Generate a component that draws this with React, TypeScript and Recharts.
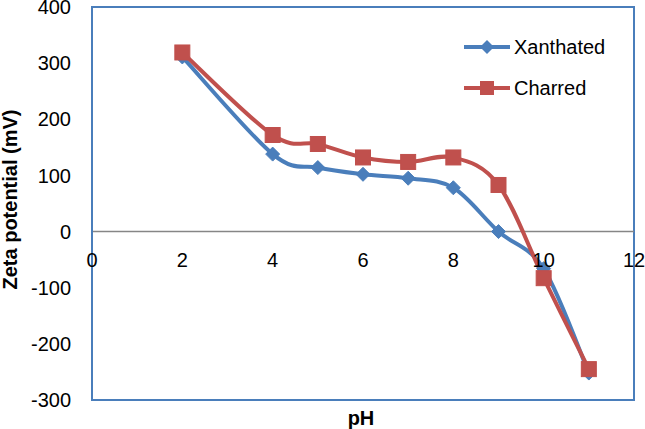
import React from 'react';
import {
  LineChart,
  Line,
  XAxis,
  YAxis,
  ReferenceLine,
  ReferenceArea,
  Legend,
} from 'recharts';

const phValues = [2, 4, 5, 6, 7, 8, 9, 10, 11];
const xanthated = [311, 138, 114, 102, 95, 78, 0, -66, -252];
const charred = [319, 172, 156, 132, 124, 132, 83, -83, -245];
const xTicks = [0, 2, 4, 6, 8, 10, 12];
const yTicks = [-300, -200, -100, 0, 100, 200, 300, 400];
const seriesNames = ['Xanthated', 'Charred'];

const data = phValues.map((ph, i) => ({ ph, xanthated: xanthated[i], charred: charred[i] }));

const BLUE = '#4A7EBB';
const RED = '#C0504D';
const FONT = '"Liberation Sans", Arial, sans-serif';

const W = 645;
const H = 429;
const M = { top: 7, right: 11, bottom: 0, left: 0 };
const Y_W = 92;
const X_H = 29;
const Y_MIN = -300;
const Y_MAX = 400;
const plotH = H - M.top - M.bottom - X_H;
const zeroY = M.top + (plotH * (Y_MAX - 0)) / (Y_MAX - Y_MIN);

// Excel-like smoothing: uniform Catmull-Rom spline drawn as cubic Beziers.
function excelSmooth(context: any) {
  let pts: [number, number][] = [];
  return {
    areaStart() {},
    areaEnd() {},
    lineStart() {
      pts = [];
    },
    point(x: number, y: number) {
      pts.push([+x, +y]);
    },
    lineEnd() {
      const n = pts.length;
      if (n === 0) return;
      context.moveTo(pts[0][0], pts[0][1]);
      if (n === 1) return;
      for (let i = 0; i < n - 1; i++) {
        const p0 = pts[i === 0 ? 0 : i - 1];
        const p1 = pts[i];
        const p2 = pts[i + 1];
        const p3 = pts[i + 2 < n ? i + 2 : n - 1];
        const c1x = p1[0] + (p2[0] - p0[0]) / 6;
        const c1y = p1[1] + (p2[1] - p0[1]) / 6;
        const c2x = p2[0] - (p3[0] - p1[0]) / 6;
        const c2y = p2[1] - (p3[1] - p1[1]) / 6;
        context.bezierCurveTo(c1x, c1y, c2x, c2y, p2[0], p2[1]);
      }
    },
  };
}

const Diamond = (props: any) => {
  const { cx, cy, index } = props;
  if (cx == null || cy == null) return <g key={`d${index}`} />;
  const r = 7;
  return (
    <path
      key={`d${index}`}
      d={`M${cx},${cy - r}L${cx + r},${cy}L${cx},${cy + r}L${cx - r},${cy}Z`}
      fill={BLUE}
      stroke={BLUE}
      strokeWidth={1}
    />
  );
};

const Square = (props: any) => {
  const { cx, cy, index } = props;
  if (cx == null || cy == null) return <g key={`s${index}`} />;
  const r = 7.5;
  return <rect key={`s${index}`} x={cx - r} y={cy - r} width={2 * r} height={2 * r} fill={RED} stroke={RED} strokeWidth={1} />;
};

const XTick = (props: any) => {
  const { x, payload } = props;
  return (
    <text x={x} y={zeroY + 35} textAnchor="middle" fontSize={20} fontFamily={FONT} fill="#000">
      {payload.value}
    </text>
  );
};

const YLabel = (props: any) => {
  const vb = props.viewBox || {};
  const cy = (vb.y ?? M.top) + (vb.height ?? plotH) / 2 - 4;
  const x = 17;
  return (
    <text
      x={x}
      y={cy}
      transform={`rotate(-90, ${x}, ${cy})`}
      textAnchor="middle"
      fontSize={20}
      fontWeight="bold"
      fontFamily={FONT}
      fill="#000"
    >
      Zeta potential (mV)
    </text>
  );
};

const XLabel = (props: any) => {
  const vb = props.viewBox || {};
  const cx = (vb.x ?? Y_W) + (vb.width ?? 542) / 2 - 2;
  return (
    <text x={cx} y={425} textAnchor="middle" fontSize={20} fontWeight="bold" fontFamily={FONT} fill="#000">
      pH
    </text>
  );
};

const LegendContent = () => {
  const rows = [
    { name: seriesNames[0], color: BLUE, shape: 'diamond' },
    { name: seriesNames[1], color: RED, shape: 'square' },
  ];
  return (
    <svg width={160} height={90}>
      {rows.map((r, i) => {
        const cy = 11 + i * 41;
        return (
          <g key={r.name}>
            <line x1={2} x2={48} y1={cy} y2={cy} stroke={r.color} strokeWidth={4} />
            {r.shape === 'diamond' ? (
              <path d={`M25,${cy - 7}L32,${cy}L25,${cy + 7}L18,${cy}Z`} fill={r.color} />
            ) : (
              <rect x={18} y={cy - 7} width={14} height={14} fill={r.color} />
            )}
            <text x={52} y={cy + 7} fontSize={20} fontFamily={FONT} fill="#000">
              {r.name}
            </text>
          </g>
        );
      })}
    </svg>
  );
};

export default function App() {
  return (
    <div style={{ position: 'absolute', left: 0, top: 0, width: W, height: H, background: '#fff' }}>
      <LineChart width={W} height={H} data={data} margin={M}>
        <ReferenceArea
          x1={0}
          x2={12}
          y1={Y_MIN}
          y2={Y_MAX}
          fill="none"
          stroke={BLUE}
          strokeWidth={2}
          ifOverflow="visible"
        />
        <XAxis
          dataKey="ph"
          type="number"
          domain={[0, 12]}
          ticks={xTicks}
          height={X_H}
          axisLine={{ stroke: BLUE, strokeWidth: 2 }}
          tickLine={false}
          tick={<XTick />}
          interval={0}
          label={<XLabel />}
        />
        <YAxis
          type="number"
          domain={[Y_MIN, Y_MAX]}
          ticks={yTicks}
          width={Y_W}
          axisLine={{ stroke: BLUE, strokeWidth: 2 }}
          tickLine={false}
          tickSize={0}
          tickMargin={21}
          interval={0}
          tick={{ fontSize: 20, fontFamily: FONT, fill: '#000' }}
          label={<YLabel />}
        />
        <ReferenceLine y={0} stroke="#868686" strokeWidth={1.5} />
        <Legend
          layout="horizontal"
          verticalAlign="middle"
          align="center"
          content={<LegendContent />}
          wrapperStyle={{ position: 'absolute', left: 462, top: 36, width: 160, height: 90 }}
        />
        <Line
          type={excelSmooth as any}
          dataKey="xanthated"
          name={seriesNames[0]}
          stroke={BLUE}
          strokeWidth={4}
          dot={Diamond}
          activeDot={false}
          isAnimationActive={false}
        />
        <Line
          type={excelSmooth as any}
          dataKey="charred"
          name={seriesNames[1]}
          stroke={RED}
          strokeWidth={4}
          dot={Square}
          activeDot={false}
          isAnimationActive={false}
        />
      </LineChart>
    </div>
  );
}
